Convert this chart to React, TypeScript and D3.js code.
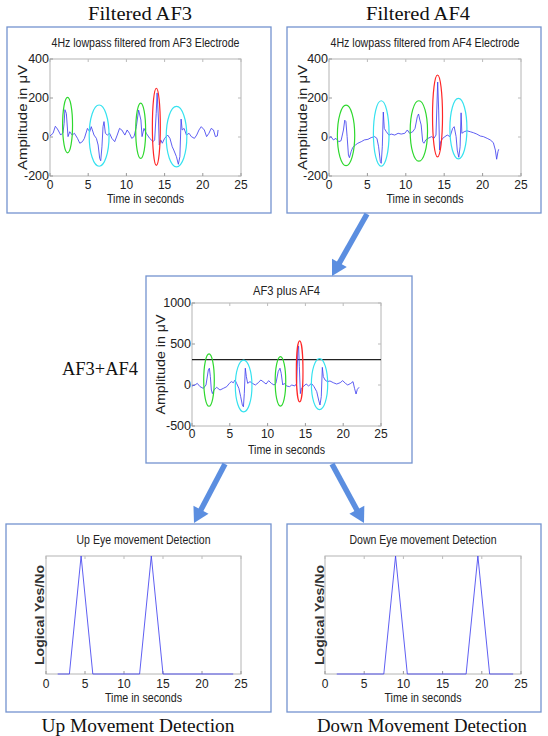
import * as d3 from "d3";

// tick labels
const xTicks = [0, 5, 10, 15, 20, 25];
const eegTicks = [-200, 0, 200, 400];
const sumTicks = [-500, 0, 500, 1000];

// 4Hz lowpass filtered AF3 (time s, amplitude uV)
const af3Trace: [number, number][] = [
  [0, 5], [0.4, 19], [0.7, 55], [0.85, 48], [1.05, 36], [1.4, 10], [1.7, 22], [1.85, 70],
  [1.95, 140], [2.14, 121], [2.36, 2], [2.58, 27], [2.9, 10], [3.2, 19], [3.6, -7],
  [3.9, -32], [4.24, -24], [4.5, -7], [4.9, 44], [5.2, 27], [5.4, 53], [5.76, 10],
  [6.07, -7], [6.3, -41], [6.5, -109], [6.64, -122], [6.8, -50], [6.94, 53], [7.07, 79],
  [7.25, 19], [7.5, 10], [7.8, 19], [8.1, -7], [8.47, -24], [8.8, 10], [9.1, 44],
  [9.4, 36], [9.8, 10], [10.1, 36], [10.4, 19], [10.7, -7], [11.0, 2], [11.3, 53],
  [11.6, 138], [11.9, 87], [12.05, 2], [12.3, 44], [12.6, 19], [13.05, -7], [13.5, -24],
  [13.7, -15], [13.9, 121], [14.02, 226], [14.2, 87], [14.3, -41], [14.5, -15],
  [14.7, -32], [15.0, -7], [15.4, 10], [15.7, -7], [16.0, -50], [16.2, -67], [16.55, -101],
  [16.8, -140], [17.0, -101], [17.16, 92], [17.3, 36], [17.55, 44], [17.86, 10],
  [18.2, 19], [18.5, 2], [18.9, -7], [19.2, 10], [19.5, 36], [19.8, 53], [20.2, 36],
  [20.5, 2], [20.8, 19], [21.1, 44], [21.4, 36], [21.65, 2], [21.9, 5], [22.0, 36],
];

// 4Hz lowpass filtered AF4
const af4Trace: [number, number][] = [
  [0, -7], [0.26, 2], [0.57, -15], [0.9, -7], [1.27, -24], [1.57, -19], [1.88, 36],
  [2.05, 86], [2.2, 79], [2.36, 2], [2.53, -92], [2.66, -106], [2.88, -75], [3.1, -53],
  [3.45, -41], [3.75, -32], [4.2, -24], [4.6, -15], [5.07, -12], [5.5, -3], [5.94, 2],
  [6.24, -7], [6.46, -50], [6.68, -126], [6.8, -135], [6.94, -50], [7.07, 128],
  [7.2, 44], [7.47, 27], [7.8, 10], [8.1, 15], [8.56, 10], [9.0, 19], [9.4, 15],
  [9.87, 19], [10.2, 36], [10.5, 19], [10.9, 27], [11.2, 44], [11.5, 104], [11.66, 118],
  [11.83, 87], [12.0, 62], [12.2, -24], [12.36, -32], [12.6, -15], [12.9, -7],
  [13.36, 2], [13.67, -7], [13.93, 10], [14.15, 282], [14.28, 138], [14.4, -67],
  [14.54, -24], [14.8, -7], [15.1, 2], [15.4, 10], [15.76, 2], [16.1, 44], [16.3, 53],
  [16.55, 2], [16.7, -67], [16.9, -104], [17.07, -50], [17.2, 124], [17.3, 19],
  [17.6, 27], [17.95, 32], [18.4, 27], [18.8, 22], [19.25, 15], [19.7, 5], [20.1, 2],
  [20.6, -7], [21.0, -15], [21.4, -29], [21.66, -67], [21.83, -114], [22.0, -75],
  [22.1, -63],
];

// AF3 plus AF4
const sumTrace: [number, number][] = [
  [0, -12], [0.4, 0], [0.7, 20], [1.06, -20], [1.5, -41], [1.85, 0], [2.16, 183],
  [2.3, 205], [2.43, 102], [2.56, -61], [2.7, -105], [2.9, -61], [3.26, -28], [3.7, -61],
  [4.14, -41], [4.6, -20], [4.94, 20], [5.2, 41], [5.47, 28], [5.7, 61], [5.9, 20],
  [6.2, -41], [6.44, -142], [6.66, -244], [6.8, -266], [6.92, -102], [7.05, 205],
  [7.19, 102], [7.36, 20], [7.67, 41], [8.0, 20], [8.38, 0], [8.77, 28], [9.1, 61],
  [9.4, 41], [9.8, 12], [10.14, 53], [10.5, 20], [10.85, 0], [11.1, 20], [11.4, 163],
  [11.64, 205], [11.8, 142], [12.0, 0], [12.2, 20], [12.5, -12], [12.9, -20], [13.2, 0],
  [13.6, -12], [13.85, 20], [14.0, 427], [14.1, 475], [14.2, 224], [14.33, -105],
  [14.46, -41], [14.7, -20], [15.1, 12], [15.43, -12], [15.8, 20], [16.14, -20],
  [16.5, -81], [16.75, -183], [16.93, -244], [17.1, -142], [17.24, 215], [17.37, 102],
  [17.6, 61], [17.9, 41], [18.25, 49], [18.7, 28], [19.14, 12], [19.6, 28], [19.93, 53],
  [20.3, 20], [20.6, 0], [21.0, 20], [21.3, 41], [21.5, -41], [21.7, -110], [21.87, -53],
  [22.1, -28],
];

const threshold = 310;

// circled events: centre time/value and half-widths in data units
type Mark = { t: number; v: number; dt: number; dv: number; kind: string };
const af3Marks: Mark[] = [
  { t: 2.3, v: 61, dt: 0.65, dv: 142, kind: "up" },
  { t: 6.43, v: 7, dt: 1.3, dv: 157, kind: "down" },
  { t: 11.87, v: 32, dt: 0.65, dv: 142, kind: "up" },
  { t: 13.92, v: 52, dt: 0.52, dv: 198, kind: "blink" },
  { t: 16.56, v: 2, dt: 1.35, dv: 155, kind: "down" },
];
const af4Marks: Mark[] = [
  { t: 2.22, v: 8, dt: 1.13, dv: 155, kind: "up" },
  { t: 6.8, v: 18, dt: 1.02, dv: 168, kind: "down" },
  { t: 11.7, v: 31, dt: 1.13, dv: 155, kind: "up" },
  { t: 14.13, v: 108, dt: 0.65, dv: 210, kind: "blink" },
  { t: 16.85, v: 43, dt: 1.11, dv: 155, kind: "down" },
];
const sumMarks: Mark[] = [
  { t: 2.25, v: 60, dt: 0.7, dv: 319, kind: "up" },
  { t: 6.83, v: -12, dt: 1.1, dv: 316, kind: "down" },
  { t: 11.7, v: 44, dt: 0.7, dv: 302, kind: "up" },
  { t: 14.24, v: 166, dt: 0.44, dv: 372, kind: "blink" },
  { t: 16.87, v: 11, dt: 1.08, dv: 311, kind: "down" },
];

// logical detection outputs
const upDetection: [number, number][] = [
  [1.5, 0], [3, 0], [4.5, 1], [6, 0], [12, 0], [13.5, 1], [15, 0], [24, 0],
];
const downDetection: [number, number][] = [
  [1.5, 0], [7.5, 0], [9, 1], [10.5, 0], [18, 0], [19.5, 1], [21, 0], [24, 0],
];

const markColor: Record<string, string> = { up: "#2ed82e", down: "#36e2ef", blink: "#ff2626" };
const sans = "'Liberation Sans', Arial, sans-serif";
const serif = "'Liberation Serif', 'Times New Roman', serif";
const boxColor = "#7393cf";
const arrowColor = "#5b8ee0";
const traceColor = "#4343f0";

type PlotProps = {
  left: number; top: number; width: number; height: number;
  yDomain: [number, number]; yTicks?: number[];
  trace: [number, number][]; marks?: Mark[]; threshold?: number;
  title: string; titleLen: number; titleY: number;
  yLabel: string; yLabelX: number; yLabelLen: number; yLabelBold?: boolean;
  xLabelY: number; tickGap: number;
};

function Plot(p: PlotProps) {
  const x = d3.scaleLinear().domain([0, 25]).range([p.left, p.left + p.width]);
  const y = d3.scaleLinear().domain(p.yDomain).range([p.top + p.height, p.top]);
  const line = d3.line<[number, number]>().x((d) => x(d[0])).y((d) => y(d[1]));
  const cx = p.left + p.width / 2;
  const cy = p.top + p.height / 2;
  const bottom = p.top + p.height;
  return (
    <g fontFamily={sans}>
      <text x={cx} y={p.titleY} textAnchor="middle" fontSize={12} fill="#222"
        textLength={p.titleLen} lengthAdjust="spacingAndGlyphs">{p.title}</text>
      <rect x={p.left} y={p.top} width={p.width} height={p.height} fill="#fff" stroke="#b4b4b4" strokeWidth={1} />
      {xTicks.map((t) => (
        <g key={"x" + t}>
          <line x1={x(t)} x2={x(t)} y1={bottom} y2={bottom - 3} stroke="#999" />
          <line x1={x(t)} x2={x(t)} y1={p.top} y2={p.top + 3} stroke="#bbb" />
          <text x={x(t)} y={bottom + p.tickGap} textAnchor="middle" fontSize={12} fill="#222">{t}</text>
        </g>
      ))}
      {(p.yTicks || []).map((v) => (
        <g key={"y" + v}>
          <line x1={p.left} x2={p.left + 3} y1={y(v)} y2={y(v)} stroke="#999" />
          <line x1={p.left + p.width} x2={p.left + p.width - 3} y1={y(v)} y2={y(v)} stroke="#bbb" />
          <text x={p.left - 1} y={y(v)} dy="0.35em" textAnchor="end" fontSize={12.5} fill="#222">{v}</text>
        </g>
      ))}
      {p.threshold !== undefined && (
        <line x1={x(0)} x2={x(25)} y1={y(p.threshold)} y2={y(p.threshold)} stroke="#222" strokeWidth={1.2} />
      )}
      <path d={line(p.trace) || ""} fill="none" stroke={traceColor} strokeWidth={1} strokeOpacity={0.85} />
      {(p.marks || []).map((m, i) => (
        <ellipse key={i} cx={x(m.t)} cy={y(m.v)} rx={x(m.t + m.dt) - x(m.t)} ry={y(m.v) - y(m.v + m.dv)}
          fill="none" stroke={markColor[m.kind]} strokeWidth={1.2} />
      ))}
      <text x={cx} y={p.xLabelY} textAnchor="middle" fontSize={13} fill="#222"
        textLength={77} lengthAdjust="spacingAndGlyphs">Time in seconds</text>
      <text transform={`translate(${p.yLabelX},${cy}) rotate(-90)`} textAnchor="middle" dy="0.35em"
        fontSize={13.5} fontWeight={p.yLabelBold ? "bold" : "normal"} fill={p.yLabelBold ? "#333" : "#222"}
        textLength={p.yLabelLen} lengthAdjust="spacingAndGlyphs">{p.yLabel}</text>
    </g>
  );
}

function Arrow({ from, to }: { from: [number, number]; to: [number, number] }) {
  const dx = to[0] - from[0];
  const dy = to[1] - from[1];
  const len = Math.hypot(dx, dy);
  const ux = dx / len, uy = dy / len;
  const headLen = 15, headHalf = 8.5;
  const bx = to[0] - ux * headLen, by = to[1] - uy * headLen;
  const pts = [
    [to[0], to[1]],
    [bx - uy * headHalf, by + ux * headHalf],
    [bx + uy * headHalf, by - ux * headHalf],
  ].map((q) => q.join(",")).join(" ");
  return (
    <g>
      <line x1={from[0]} y1={from[1]} x2={bx + ux * 2} y2={by + uy * 2} stroke={arrowColor} strokeWidth={5.5} />
      <polygon points={pts} fill={arrowColor} />
    </g>
  );
}

export default function App() {
  const amp = "Amplitude in \u03bcV";
  return (
    <svg width={548} height={736} style={{ position: "absolute", left: 0, top: 0, background: "#fff" }}>
      {/* panel frames */}
      <rect x={7} y={27} width={264} height={186} fill="none" stroke={boxColor} strokeWidth={1.3} />
      <rect x={287} y={27} width={254} height={186} fill="none" stroke={boxColor} strokeWidth={1.3} />
      <rect x={146} y={276} width={266} height={187} fill="none" stroke={boxColor} strokeWidth={1.3} />
      <rect x={6} y={524} width={265} height={188} fill="none" stroke={boxColor} strokeWidth={1.3} />
      <rect x={287} y={524} width={254} height={188} fill="none" stroke={boxColor} strokeWidth={1.3} />

      <Arrow from={[367, 214]} to={[332, 276]} />
      <Arrow from={[225, 464]} to={[194, 523]} />
      <Arrow from={[332, 464]} to={[364, 523]} />

      {/* captions */}
      <g fontFamily={serif} fill="#111">
        <text x={140} y={20} textAnchor="middle" fontSize={19} textLength={104} lengthAdjust="spacingAndGlyphs">Filtered AF3</text>
        <text x={418} y={20} textAnchor="middle" fontSize={19} textLength={104} lengthAdjust="spacingAndGlyphs">Filtered AF4</text>
        <text x={62} y={375} fontSize={18} textLength={76} lengthAdjust="spacingAndGlyphs">AF3+AF4</text>
        <text x={138} y={732} textAnchor="middle" fontSize={19} textLength={193} lengthAdjust="spacingAndGlyphs">Up Movement Detection</text>
        <text x={422} y={732} textAnchor="middle" fontSize={19} textLength={210} lengthAdjust="spacingAndGlyphs">Down Movement Detection</text>
      </g>

      <Plot left={50} top={59} width={191} height={117} yDomain={[-200, 400]} yTicks={eegTicks}
        trace={af3Trace} marks={af3Marks} title="4Hz lowpass filtered from AF3 Electrode" titleLen={188} titleY={47}
        yLabel={amp} yLabelX={22} yLabelLen={105} xLabelY={203} tickGap={13} />
      <Plot left={329} top={59} width={192} height={117} yDomain={[-200, 400]} yTicks={eegTicks}
        trace={af4Trace} marks={af4Marks} title="4Hz lowpass filtered from AF4 Electrode" titleLen={189} titleY={47}
        yLabel={amp} yLabelX={302} yLabelLen={105} xLabelY={203} tickGap={13} />
      <Plot left={192} top={303} width={189} height={123} yDomain={[-500, 1000]} yTicks={sumTicks}
        trace={sumTrace} marks={sumMarks} threshold={threshold} title="AF3 plus AF4" titleLen={67} titleY={295}
        yLabel={amp} yLabelX={160} yLabelLen={100} xLabelY={454} tickGap={12} />
      <Plot left={46} top={556} width={195} height={118} yDomain={[0, 1]}
        trace={upDetection} title="Up Eye movement Detection" titleLen={134} titleY={544}
        yLabel="Logical Yes/No" yLabelX={39} yLabelLen={100} yLabelBold xLabelY={702} tickGap={14} />
      <Plot left={325} top={556} width={196} height={118} yDomain={[0, 1]}
        trace={downDetection} title="Down Eye movement Detection" titleLen={147} titleY={544}
        yLabel="Logical Yes/No" yLabelX={319} yLabelLen={100} yLabelBold xLabelY={702} tickGap={14} />
    </svg>
  );
}
